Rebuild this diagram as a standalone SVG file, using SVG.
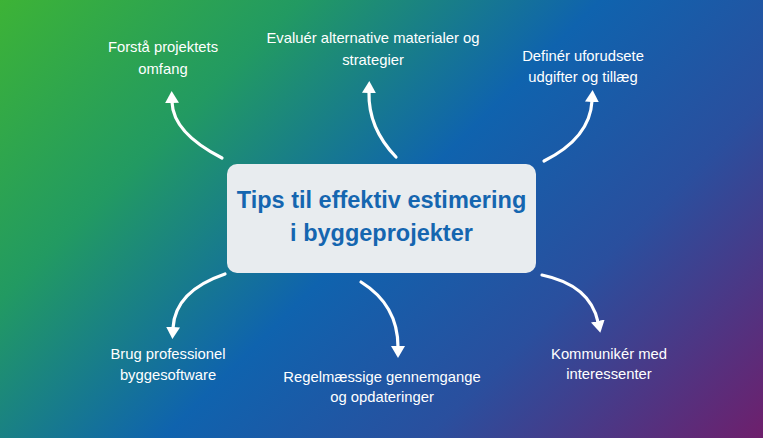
<svg xmlns="http://www.w3.org/2000/svg" width="763" height="438" viewBox="0 0 763 438">
<defs>
<linearGradient id="bg" gradientUnits="userSpaceOnUse" x1="81" y1="-81" x2="682" y2="519">
<stop offset="0" stop-color="#3db336"/>
<stop offset="0.25" stop-color="#229a62"/>
<stop offset="0.5" stop-color="#0f63ae"/>
<stop offset="0.72" stop-color="#2a4f9e"/>
<stop offset="1" stop-color="#6e1f6c"/>
</linearGradient>
<marker id="ah" viewBox="0 0 12 14" refX="1" refY="7" markerWidth="12" markerHeight="14" markerUnits="userSpaceOnUse" orient="auto">
<path d="M0,0 L12,7 L0,14 z" fill="#ffffff"/>
</marker>
<style>
.lbl{font-family:"Liberation Sans",Arial,sans-serif;font-size:14.8px;fill:#ffffff;text-anchor:middle}
.ttl{font-family:"Liberation Sans",Arial,sans-serif;font-size:23.5px;font-weight:bold;fill:#1566b0;text-anchor:middle}
.arr{fill:none;stroke:#ffffff;stroke-width:3.2;stroke-linecap:round;marker-end:url(#ah)}
</style>
</defs>
<rect x="0" y="0" width="763" height="438" fill="url(#bg)"/>
<g id="connectors">
<path class="arr" d="M222,158 Q173,133 172,102"/>
<path class="arr" d="M396,157 Q368,128 369,92"/>
<path class="arr" d="M544,161 Q590,138 592,101"/>
<path class="arr" d="M225,274 Q175,291 173,328"/>
<path class="arr" d="M361,282 Q398,305 398,347"/>
<path class="arr" d="M542,275 Q590,285 598,322"/>
</g>
<g id="center">
<rect x="227" y="164" width="309" height="109" rx="10" fill="#e8ecef"/>
<text class="ttl" x="381.5" y="208">Tips til effektiv estimering</text>
<text class="ttl" x="381.5" y="241">i byggeprojekter</text>
</g>
<g id="n1"><text class="lbl" x="163" y="52">Forstå projektets</text><text class="lbl" x="163" y="74">omfang</text></g>
<g id="n2"><text class="lbl" x="373" y="43">Evaluér alternative materialer og</text><text class="lbl" x="373" y="65">strategier</text></g>
<g id="n3"><text class="lbl" x="583" y="61">Definér uforudsete</text><text class="lbl" x="583" y="82">udgifter og tillæg</text></g>
<g id="n4"><text class="lbl" x="168" y="359">Brug professionel</text><text class="lbl" x="168" y="380">byggesoftware</text></g>
<g id="n5"><text class="lbl" x="382" y="382">Regelmæssige gennemgange</text><text class="lbl" x="382" y="402">og opdateringer</text></g>
<g id="n6"><text class="lbl" x="609" y="359">Kommunikér med</text><text class="lbl" x="609" y="379">interessenter</text></g>
</svg>
